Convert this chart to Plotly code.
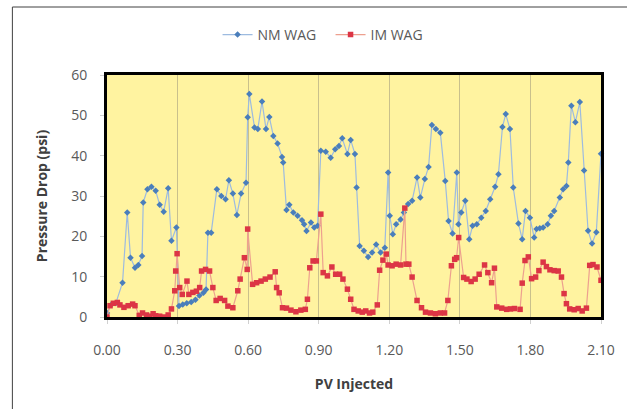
import plotly.graph_objects as go

# NM WAG series (PV injected, pressure drop psi)
nm_pv = [0.000, 0.017, 0.038, 0.066, 0.086, 0.100, 0.119, 0.133, 0.149, 0.154, 0.172, 0.189,
         0.207, 0.224, 0.241, 0.260, 0.274, 0.295, 0.306, 0.322, 0.339, 0.358, 0.376, 0.393,
         0.410, 0.421, 0.429, 0.443, 0.467, 0.486, 0.504, 0.518, 0.535, 0.552, 0.570, 0.591,
         0.598, 0.605, 0.627, 0.641, 0.659, 0.676, 0.690, 0.707, 0.725, 0.744, 0.749, 0.763,
         0.775, 0.792, 0.810, 0.829, 0.838, 0.848, 0.867, 0.881, 0.895, 0.909, 0.930, 0.951,
         0.970, 0.986, 1.000, 1.022, 1.036, 1.054, 1.061, 1.074, 1.092, 1.110, 1.127, 1.144,
         1.163, 1.181, 1.195, 1.202, 1.215, 1.229, 1.248, 1.262, 1.280, 1.297, 1.318, 1.332,
         1.351, 1.367, 1.381, 1.398, 1.417, 1.438, 1.452, 1.469, 1.487, 1.494, 1.506, 1.523,
         1.540, 1.554, 1.572, 1.591, 1.610, 1.629, 1.650, 1.664, 1.681, 1.695, 1.713, 1.727,
         1.749, 1.765, 1.779, 1.798, 1.816, 1.826, 1.840, 1.854, 1.873, 1.887, 1.901, 1.925,
         1.939, 1.953, 1.961, 1.974, 1.991, 2.010, 2.028, 2.045, 2.062, 2.080, 2.100]
nm_dp = [1.0, 3.0, 3.5, 8.5, 25.9, 14.7, 12.2, 12.9, 15.1, 28.4, 31.7, 32.3,
         31.3, 27.8, 26.1, 31.9, 18.9, 22.2, 2.7, 3.1, 3.4, 3.7, 4.3, 5.3,
         6.0, 6.8, 20.9, 20.9, 31.7, 30.0, 29.2, 33.9, 30.6, 25.3, 30.6, 33.3,
         49.5, 55.3, 47.0, 46.6, 53.4, 46.6, 49.6, 44.9, 43.0, 39.7, 38.3, 26.5,
         27.8, 25.9, 25.1, 24.0, 23.0, 21.3, 23.4, 22.2, 22.6, 41.2, 41.0, 39.5,
         41.6, 42.4, 44.3, 40.4, 43.9, 40.4, 32.1, 17.6, 16.4, 14.9, 16.0, 18.0,
         16.0, 17.2, 35.8, 25.1, 20.5, 23.0, 24.2, 25.9, 28.0, 28.8, 34.6, 29.6,
         34.2, 37.2, 47.6, 46.6, 45.7, 33.7, 23.8, 20.7, 35.8, 23.0, 25.9, 28.8,
         19.3, 22.6, 23.0, 24.6, 26.3, 29.2, 32.3, 35.4, 47.1, 50.3, 46.6, 32.1,
         23.2, 19.3, 26.3, 24.6, 19.7, 21.8, 22.0, 22.2, 23.0, 25.1, 26.3, 29.6,
         31.7, 32.5, 38.3, 52.4, 48.3, 53.3, 36.3, 21.4, 18.2, 21.0, 40.5]

# IM WAG series
im_pv = [0.000, 0.013, 0.027, 0.044, 0.055, 0.072, 0.090, 0.109, 0.119, 0.137, 0.151, 0.168,
         0.182, 0.196, 0.207, 0.224, 0.241, 0.260, 0.274, 0.288, 0.292, 0.298, 0.309, 0.320,
         0.340, 0.348, 0.365, 0.380, 0.394, 0.402, 0.419, 0.436, 0.450, 0.464, 0.481, 0.500,
         0.514, 0.535, 0.556, 0.566, 0.584, 0.596, 0.598, 0.619, 0.636, 0.655, 0.673, 0.693,
         0.715, 0.721, 0.732, 0.746, 0.763, 0.782, 0.803, 0.824, 0.843, 0.852, 0.862, 0.876,
         0.890, 0.909, 0.919, 0.937, 0.956, 0.972, 0.989, 1.003, 1.022, 1.036, 1.050, 1.068,
         1.085, 1.100, 1.116, 1.130, 1.149, 1.159, 1.173, 1.187, 1.195, 1.212, 1.229, 1.248,
         1.266, 1.271, 1.283, 1.297, 1.318, 1.337, 1.354, 1.375, 1.396, 1.417, 1.435, 1.449,
         1.464, 1.478, 1.486, 1.495, 1.516, 1.530, 1.548, 1.565, 1.582, 1.605, 1.619, 1.635,
         1.647, 1.657, 1.678, 1.699, 1.715, 1.732, 1.756, 1.765, 1.777, 1.791, 1.805, 1.822,
         1.836, 1.854, 1.868, 1.883, 1.901, 1.918, 1.932, 1.943, 1.953, 1.967, 1.986, 2.003,
         2.020, 2.038, 2.052, 2.066, 2.083, 2.100]
im_dp = [0.0, 2.8, 3.4, 3.6, 3.0, 2.4, 2.8, 3.2, 2.8, 0.4, 1.0, 0.5,
         0.2, 0.8, 0.3, 0.2, 0.0, 0.5, 2.0, 6.5, 11.4, 15.7, 7.3, 5.6,
         8.9, 5.6, 6.1, 6.4, 7.3, 11.4, 11.8, 11.4, 7.3, 4.1, 4.6, 4.1,
         2.7, 2.3, 6.5, 9.4, 14.7, 11.8, 21.8, 8.1, 8.5, 8.9, 9.4, 9.9,
         11.2, 7.3, 6.0, 2.3, 2.2, 1.7, 1.3, 1.7, 1.9, 4.4, 12.2, 13.9,
         13.9, 25.5, 11.0, 10.2, 12.4, 10.6, 10.6, 9.4, 6.9, 4.4, 1.9, 1.5,
         1.2, 1.5, 1.0, 1.2, 3.0, 11.6, 14.1, 15.6, 12.9, 12.7, 13.1, 12.9,
         27.0, 13.1, 13.1, 9.9, 4.1, 2.3, 1.2, 1.0, 0.8, 1.0, 1.0, 4.1,
         12.7, 14.3, 14.7, 19.7, 9.8, 9.4, 8.8, 9.4, 10.6, 12.9, 11.0, 8.5,
         12.1, 2.5, 2.2, 1.9, 2.0, 2.1, 1.9, 8.4, 14.0, 14.9, 9.5, 9.9,
         11.5, 13.6, 12.5, 11.7, 11.5, 11.4, 9.9, 5.8, 3.3, 2.0, 1.8, 2.1,
         1.5, 2.2, 12.8, 13.0, 12.4, 9.1]

x_ticks = [0.0, 0.3, 0.6, 0.9, 1.2, 1.5, 1.8, 2.1]
y_ticks = [0, 10, 20, 30, 40, 50, 60]

fig = go.Figure()
fig.add_trace(go.Scatter(
    x=nm_pv, y=nm_dp, name="NM WAG", mode="lines+markers",
    line=dict(color="#9dbbe0", width=1.2),
    marker=dict(symbol="diamond", size=5, color="#4a7ebb"),
    cliponaxis=False))
fig.add_trace(go.Scatter(
    x=im_pv, y=im_dp, name="IM WAG", mode="lines+markers",
    line=dict(color="#eda08f", width=1.2),
    marker=dict(symbol="square", size=5.5, color="#dc3545"),
    cliponaxis=False))

L, R, T, B = 107, 603, 75, 317
W, H = 627, 409
pw, ph = R - L, B - T

def px(xp):
    return (xp - L) / pw

def py(yp):
    return (B - yp) / ph

fig.update_layout(
    width=W, height=H, autosize=False,
    margin=dict(l=L, r=W - R, t=T, b=H - B, pad=0),
    paper_bgcolor="white", plot_bgcolor="#fff3a0",
    font=dict(family="Open Sans, Liberation Sans, sans-serif", color="#595959", size=14),
    showlegend=True,
    legend=dict(orientation="h", x=px(218), xanchor="left", y=py(35), yanchor="middle",
                font=dict(size=14, color="#595959"), bgcolor="rgba(0,0,0,0)",
                entrywidth=68, entrywidthmode="pixels", tracegroupgap=0),
    xaxis=dict(range=[0, 2.1], tickvals=x_ticks, tickformat=".2f",
               showgrid=True, gridcolor="#c9c08c", gridwidth=1,
               showline=True, linecolor="black", linewidth=3, mirror=True,
               ticks="outside", ticklen=4, tickcolor="#d0d0d0",
               ticklabelstandoff=14, zeroline=False,
               tickfont=dict(size=14, color="#595959"),
               title=dict(text="<b>PV Injected</b>", font=dict(size=14, color="#404040"), standoff=22)),
    yaxis=dict(range=[0, 60], tickvals=y_ticks, showgrid=False,
               showline=True, linecolor="black", linewidth=3, mirror=True,
               ticks="outside", ticklen=4, tickcolor="#d0d0d0",
               ticklabelstandoff=10, zeroline=False,
               tickfont=dict(size=14, color="#595959"),
               title=dict(text="<b>Pressure Drop (psi)</b>", font=dict(size=14, color="#404040"), standoff=21)),
    shapes=[dict(type="rect", xref="paper", yref="paper",
                 x0=px(12), x1=px(660), y0=py(440), y1=py(7),
                 line=dict(color="#404040", width=1), fillcolor="rgba(0,0,0,0)", layer="below")],
)

fig.write_html("out.html", config={"displayModeBar": False},
               post_script="document.body.style.margin='0';")
